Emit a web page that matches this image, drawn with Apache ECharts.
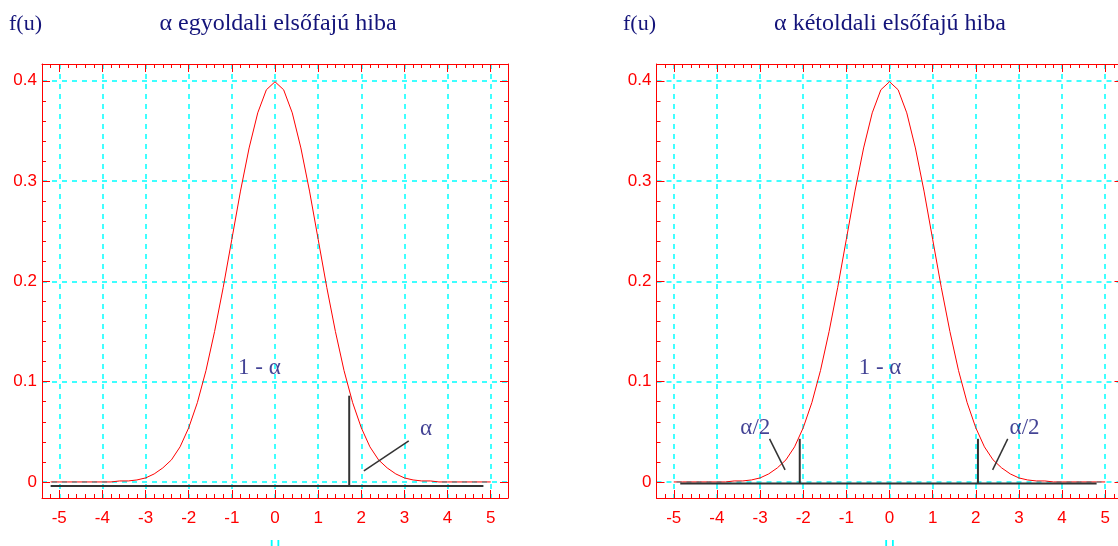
<!DOCTYPE html>
<html>
<head>
<meta charset="utf-8">
<script src="https://cdn.jsdelivr.net/npm/echarts@6/dist/echarts.min.js"></script>
<style>
  html, body { margin: 0; padding: 0; background: #fff; }
  #chart { width: 1118px; height: 546px; }
</style>
</head>
<body>
<div id="chart"></div>
<script>
  // u values and the density (step 0.2)
  const uValues = [-5.2, -5, -4.8, -4.6, -4.4, -4.2, -4, -3.8, -3.6, -3.4, -3.2, -3, -2.8, -2.6, -2.4, -2.2, -2, -1.8, -1.6, -1.4, -1.2, -1, -0.8, -0.6, -0.4, -0.2,
    0, 0.2, 0.4, 0.6, 0.8, 1, 1.2, 1.4, 1.6, 1.8, 2, 2.2, 2.4, 2.6, 2.8, 3, 3.2, 3.4, 3.6, 3.8, 4, 4.2, 4.4, 4.6, 4.8, 5, 5.2]
  const density = [0, 0, 0, 0, 0, 0, 0, 0, 0.001, 0.001, 0.002, 0.004, 0.008, 0.014, 0.022, 0.035, 0.054, 0.079, 0.111, 0.150, 0.194, 0.242, 0.290, 0.333, 0.368, 0.391,
    0.399, 0.391, 0.368, 0.333, 0.290, 0.242, 0.194, 0.150, 0.111, 0.079, 0.054, 0.035, 0.022, 0.014, 0.008, 0.004, 0.002, 0.001, 0.001, 0, 0, 0, 0, 0, 0, 0, 0]

  // black marks, left chart (one-sided)
  const leftBase = [[-5.2, -0.004], [4.83, -0.004]]
  const leftCut = [[1.72, -0.004], [1.72, 0.086]]
  const leftPointer = [[2.06, 0.011], [3.1, 0.041]]
  const leftLabels = [{name: '1 - α', value: [-0.36, 0.114]}, {name: 'α', value: [3.5, 0.053]}]

  // black marks, right chart (two-sided)
  const rightBase = [[-4.85, -0.0015], [4.8, -0.0015]]
  const rightCutL = [[-2.08, -0.0015], [-2.08, 0.043]]
  const rightCutR = [[2.05, -0.0015], [2.05, 0.043]]
  const rightPointerL = [[-2.78, 0.043], [-2.42, 0.012]]
  const rightPointerR = [[2.74, 0.043], [2.39, 0.012]]
  const rightLabels = [{name: '1 - α', value: [-0.22, 0.114]}, {name: 'α/2', value: [-3.11, 0.054]}, {name: 'α/2', value: [3.13, 0.054]}]

  const titles = ['α egyoldali elsőfajú hiba', 'α kétoldali elsőfajú hiba']

  const RED = '#ff0000'
  const CYAN = '#00ffff'
  const NAVY = '#14147a'
  const INK = '#333333'

  let leftCurve = uValues.slice(0, 52).map((u, i) => [u, density[i]])
  let rightCurve = uValues.slice(1, 52).map((u, i) => [u, density[i + 1]])

  function xAxis(gridIndex, position) {
    let bottom = position === 'bottom'
    return {
      type: 'value', gridIndex: gridIndex, position: position,
      min: -5.4, max: 5.4, splitNumber: 10,
      name: bottom ? 'u' : '', nameLocation: 'middle', nameGap: 37,
      nameTextStyle: {color: CYAN, fontSize: 20, fontFamily: 'Liberation Sans'},
      axisLine: {show: true, onZero: false, lineStyle: {color: RED, width: 1}},
      axisTick: {show: true, inside: true, length: 8, lineStyle: {color: RED}},
      minorTick: {show: true, splitNumber: 5, length: 4, lineStyle: {color: RED}},
      axisLabel: {
        show: bottom, color: RED, fontSize: 17, fontFamily: 'Liberation Sans', margin: 12,
        formatter: v => Math.abs(v - Math.round(v)) < 1e-6 ? String(Math.round(v)) : ''
      },
      splitLine: {show: bottom, showMinLine: false, showMaxLine: false, lineStyle: {color: CYAN, width: 1.5, type: [5, 5]}}
    }
  }

  function yAxis(gridIndex, position) {
    let left = position === 'left'
    return {
      type: 'value', gridIndex: gridIndex, position: position,
      min: -0.016, max: 0.4167, splitNumber: 5,
      axisLine: {show: true, onZero: false, lineStyle: {color: RED, width: 1}},
      axisTick: {show: true, inside: true, length: 8, lineStyle: {color: RED}},
      minorTick: {show: true, splitNumber: 5, length: 4, lineStyle: {color: RED}},
      axisLabel: {
        show: left, color: RED, fontSize: 17, fontFamily: 'Liberation Sans', margin: 5,
        formatter: v => Math.abs(v * 10 - Math.round(v * 10)) < 1e-6 ? String(Math.round(v * 10) / 10) : ''
      },
      splitLine: {show: left, showMinLine: false, showMaxLine: false, lineStyle: {color: CYAN, width: 1.5, type: [5, 5]}}
    }
  }

  function inkLine(data, xi, yi, w) {
    return {type: 'line', data: data, xAxisIndex: xi, yAxisIndex: yi, symbol: 'none',
      lineStyle: {color: INK, width: w}, z: 3}
  }

  function labelSeries(data, xi, yi) {
    return {type: 'scatter', data: data, xAxisIndex: xi, yAxisIndex: yi, symbolSize: 0, z: 4,
      label: {show: true, position: 'inside', formatter: '{b}', color: NAVY, fontSize: 23, fontFamily: 'Liberation Serif'}}
  }

  let myChart = echarts.init(document.getElementById('chart'))
  let option = {
    animation: false,
    grid: [
      // outerBoundsMode none: the right box runs past the page edge like in the picture
      {left: 42, top: 64, width: 466, height: 434, outerBoundsMode: 'none', containLabel: false},
      {left: 656.5, top: 64, width: 466, height: 434, outerBoundsMode: 'none', containLabel: false}
    ],
    xAxis: [xAxis(0, 'bottom'), xAxis(0, 'top'), xAxis(1, 'bottom'), xAxis(1, 'top')],
    yAxis: [yAxis(0, 'left'), yAxis(0, 'right'), yAxis(1, 'left'), yAxis(1, 'right')],
    graphic: [
      {type: 'text', x: 9, y: 24, style: {text: 'f(u)', font: '22px "Liberation Serif"', fill: NAVY, textVerticalAlign: 'middle'}},
      {type: 'text', x: 278, y: 24, style: {text: titles[0], font: '24px "Liberation Serif"', fill: NAVY, textAlign: 'center', textVerticalAlign: 'middle'}},
      {type: 'text', x: 623, y: 24, style: {text: 'f(u)', font: '22px "Liberation Serif"', fill: NAVY, textVerticalAlign: 'middle'}},
      {type: 'text', x: 890, y: 24, style: {text: titles[1], font: '24px "Liberation Serif"', fill: NAVY, textAlign: 'center', textVerticalAlign: 'middle'}}
    ],
    series: [
      {type: 'line', data: leftCurve, xAxisIndex: 0, yAxisIndex: 0, symbol: 'none', lineStyle: {color: RED, width: 1}, z: 2},
      inkLine(leftBase, 0, 0, 2),
      inkLine(leftCut, 0, 0, 2),
      inkLine(leftPointer, 0, 0, 1.5),
      labelSeries(leftLabels, 0, 0),

      {type: 'line', data: rightCurve, xAxisIndex: 2, yAxisIndex: 2, symbol: 'none', lineStyle: {color: RED, width: 1}, z: 2},
      inkLine(rightBase, 2, 2, 2),
      inkLine(rightCutL, 2, 2, 2),
      inkLine(rightCutR, 2, 2, 2),
      inkLine(rightPointerL, 2, 2, 1.5),
      inkLine(rightPointerR, 2, 2, 1.5),
      labelSeries(rightLabels, 2, 2)
    ]
  }
  option && myChart.setOption(option)
</script>
</body>
</html>
